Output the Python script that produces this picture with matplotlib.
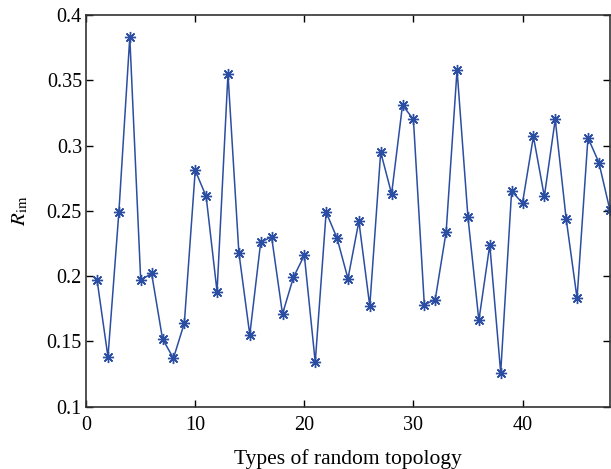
import matplotlib
matplotlib.use("Agg")
import matplotlib.pyplot as plt

# Data
topology_types = list(range(1, 49))
r_im = [0.197, 0.138, 0.249, 0.383, 0.197, 0.202, 0.152, 0.137, 0.164, 0.281,
        0.261, 0.188, 0.355, 0.218, 0.155, 0.226, 0.230, 0.171, 0.199, 0.216,
        0.134, 0.249, 0.229, 0.198, 0.242, 0.177, 0.295, 0.263, 0.331, 0.320,
        0.178, 0.182, 0.234, 0.358, 0.245, 0.166, 0.224, 0.126, 0.265, 0.256,
        0.307, 0.261, 0.320, 0.244, 0.183, 0.306, 0.287, 0.251]
x_ticks = [0, 10, 20, 30, 40]
y_ticks = [0.1, 0.15, 0.2, 0.25, 0.3, 0.35, 0.4]
y_tick_labels = ['0.1', '0.15', '0.2', '0.25', '0.3', '0.35', '0.4']


def main():
    plt.rcParams['font.family'] = ['Liberation Serif', 'DejaVu Serif']
    plt.rcParams['mathtext.fontset'] = 'stix'

    fig = plt.figure(figsize=(6.11, 4.69), dpi=100)
    ax = fig.add_axes([0.141, 0.133, 0.857, 0.835])

    ax.plot(topology_types, r_im, color='#2b4ea2', linewidth=1.1,
            marker=(8, 2, 0), markersize=8, markeredgewidth=1.0)

    ax.set_xlim(0, 48)
    ax.set_ylim(0.1, 0.4)
    ax.set_xticks(x_ticks)
    ax.set_yticks(y_ticks)
    ax.set_yticklabels(y_tick_labels)
    ax.tick_params(direction='in', top=True, right=True, labelsize=14.5,
                   length=5, width=1)
    ax.tick_params(axis='x', pad=7)
    ax.tick_params(axis='y', pad=3)
    for spine in ax.spines.values():
        spine.set_linewidth(1.2)
        spine.set_color('#333333')

    ax.set_xlabel('Types of random topology', fontsize=15.5, labelpad=10)
    ax.set_ylabel(r'$R_{\mathrm{im}}$', fontsize=15, labelpad=12)

    fig.savefig('out.png', dpi=100)


if __name__ == "__main__":
    main()
